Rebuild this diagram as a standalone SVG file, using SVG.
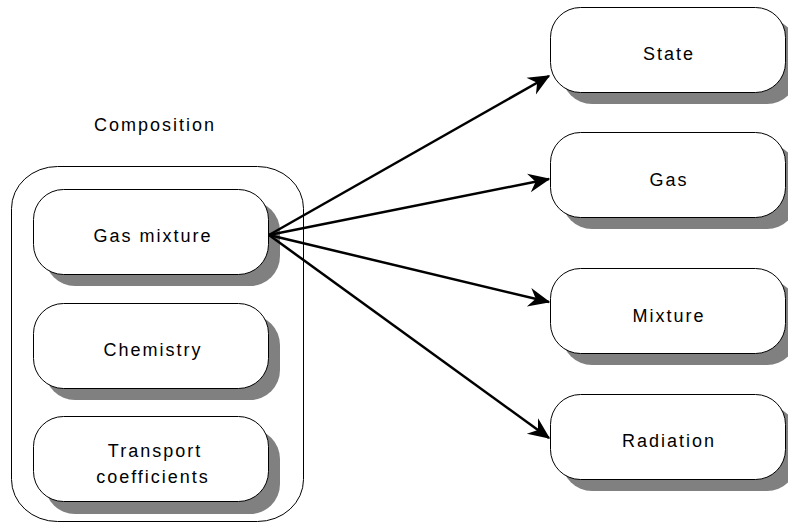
<svg xmlns="http://www.w3.org/2000/svg" width="788" height="526" viewBox="0 0 788 526">
<style>
.box{fill:#fff;stroke:#000;stroke-width:1}
.sh{fill:#808080;stroke:none}
.t{font-family:"Liberation Sans",Arial,sans-serif;font-size:18px;letter-spacing:2px;text-anchor:middle;fill:#000}
.c{stroke:#000;stroke-width:2.5;fill:none;marker-end:url(#ah)}
</style>
<defs>
<marker id="ah" markerUnits="userSpaceOnUse" markerWidth="30" markerHeight="30" viewBox="-20 -10 22 20" refX="0" refY="0" orient="auto">
<path d="M1,0 L-15,-7 L-10,0 L-15,7 Z" fill="#000"/>
</marker>
</defs>
<rect width="788" height="526" fill="#fff"/>
<g id="composition">
<rect class="box" x="11.5" y="166.5" width="292" height="355" rx="46" ry="42"/>
<text class="t" x="155" y="131">Composition</text>
</g>
<g id="gas-mixture">
<rect class="sh" x="45" y="201" width="235" height="85" rx="30" ry="30"/>
<rect class="box" x="33.5" y="189.5" width="235" height="85" rx="30" ry="30"/>
<text class="t" x="153" y="242">Gas mixture</text>
</g>
<g id="chemistry">
<rect class="sh" x="45" y="315" width="235" height="85" rx="30" ry="30"/>
<rect class="box" x="33.5" y="303.5" width="235" height="85" rx="30" ry="30"/>
<text class="t" x="153" y="356">Chemistry</text>
</g>
<g id="transport">
<rect class="sh" x="45" y="429" width="235" height="85" rx="30" ry="30"/>
<rect class="box" x="33.5" y="416.5" width="235" height="85" rx="30" ry="30"/>
<text class="t" x="155" y="457">Transport</text>
<text class="t" x="153" y="483">coefficients</text>
</g>
<g id="state">
<rect class="sh" x="562" y="19" width="235" height="85" rx="30" ry="30"/>
<rect class="box" x="550.5" y="7.5" width="235" height="85" rx="30" ry="30"/>
<text class="t" x="669" y="60">State</text>
</g>
<g id="gas">
<rect class="sh" x="562" y="144" width="235" height="85" rx="30" ry="30"/>
<rect class="box" x="550.5" y="132.5" width="235" height="85" rx="30" ry="30"/>
<text class="t" x="669" y="186">Gas</text>
</g>
<g id="mixture">
<rect class="sh" x="562" y="280" width="235" height="85" rx="30" ry="30"/>
<rect class="box" x="550.5" y="268.5" width="235" height="85" rx="30" ry="30"/>
<text class="t" x="669" y="322">Mixture</text>
</g>
<g id="radiation">
<rect class="sh" x="562" y="406" width="235" height="85" rx="30" ry="30"/>
<rect class="box" x="550.5" y="394.5" width="235" height="85" rx="30" ry="30"/>
<text class="t" x="669" y="447">Radiation</text>
</g>
<g id="connectors">
<line class="c" x1="269" y1="235" x2="549" y2="76"/>
<line class="c" x1="269" y1="235" x2="549" y2="179"/>
<line class="c" x1="269" y1="235" x2="549" y2="302"/>
<line class="c" x1="269" y1="235" x2="549" y2="438"/>
</g>
</svg>
